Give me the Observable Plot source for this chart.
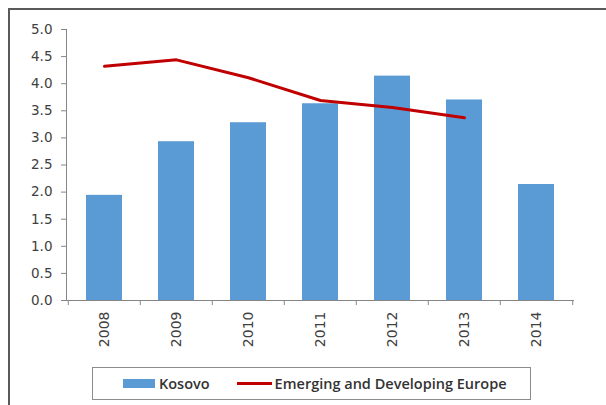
<!DOCTYPE html>
<html><head><meta charset="utf-8">
<script src="https://cdn.jsdelivr.net/npm/d3@7"></script>
<script src="https://cdn.jsdelivr.net/npm/@observablehq/plot@0.6"></script>
<style>
body{margin:0;background:#fff;}
#wrap{position:relative;width:606px;height:405px;overflow:hidden;background:#fff;}
#frame{position:absolute;left:8px;top:8px;width:700px;height:500px;border-left:2px solid #5a5a5a;border-top:2px solid #5a5a5a;}
#chart{position:absolute;left:0;top:0;}
#legend{position:absolute;left:92px;top:367px;width:439px;height:33px;border:1px solid #8c8c8c;box-sizing:border-box;
 font-family:"Open Sans",sans-serif;font-weight:600;font-size:14.5px;color:#333;display:flex;align-items:center;}
.sw{display:inline-block;}
</style></head>
<body><div id="wrap"><div id="frame"></div><div id="chart"></div>
<div id="legend">
 <span class="sw" style="margin-left:30px;width:32px;height:9px;background:#5B9BD5"></span>
 <span style="margin-left:4px">Kosovo</span>
 <span class="sw" style="margin-left:27px;width:35px;height:3px;background:#C00000"></span>
 <span style="margin-left:3px">Emerging and Developing Europe</span>
</div></div>
<script>
const years = ["2008","2009","2010","2011","2012","2013","2014"];
const kosovo = [1.94, 2.93, 3.28, 3.63, 4.14, 3.70, 2.14];
const europeYears = ["2008","2009","2010","2011","2012","2013"];
const europe = [4.32, 4.44, 4.11, 3.69, 3.56, 3.37];
const yTicks = [0,0.5,1,1.5,2,2.5,3,3.5,4,4.5,5];

const W = 606, H = 360, mL = 66, mR = 33, mT = 29, mB = 60;
const step = (W - mL - mR) / years.length;
const bars = years.map((y,i)=>({year:y, value:kosovo[i]}));
const line = europeYears.map((y,i)=>({year:y, value:europe[i]}));
const axisColor = "#868686";
const font = "DejaVu Sans";

const plot = Plot.plot({
  width: W, height: H,
  marginLeft: mL, marginRight: mR, marginTop: mT, marginBottom: mB,
  style: {fontFamily: font, fontSize: "14px", color: "#404040", background: "transparent", overflow: "visible"},
  x: {type: "band", domain: years, paddingInner: 0.5, paddingOuter: 0.25},
  y: {domain: [0, 5]},
  marks: [
    Plot.barY(bars, {x: "year", y: "value", fill: "#5B9BD5"}),
    Plot.frame({anchor: "left", stroke: axisColor}),
    Plot.frame({anchor: "bottom", stroke: axisColor}),
    Plot.ruleX(years, {x: d=>d, y1: d=>0, y2: d=>0, dx: -step/2, insetBottom: -5, stroke: axisColor}),
    Plot.ruleX([years[years.length-1]], {x: d=>d, y1: d=>0, y2: d=>0, dx: step/2, insetBottom: -5, stroke: axisColor}),
    Plot.axisY({ticks: yTicks, tickFormat: d3.format(".1f"), tickSize: 5, tickPadding: 9, stroke: axisColor, label: null, fill: "#404040", fontSize: 13.5, fontFamily: font}),
    Plot.axisX({tickSize: 0, tickRotate: -90, tickPadding: 11, label: null, fill: "#404040", fontSize: 14, fontFamily: font}),
    Plot.line(line, {x: "year", y: "value", stroke: "#C00000", strokeWidth: 3})
  ]
});
document.getElementById("chart").appendChild(plot);
</script></body></html>
